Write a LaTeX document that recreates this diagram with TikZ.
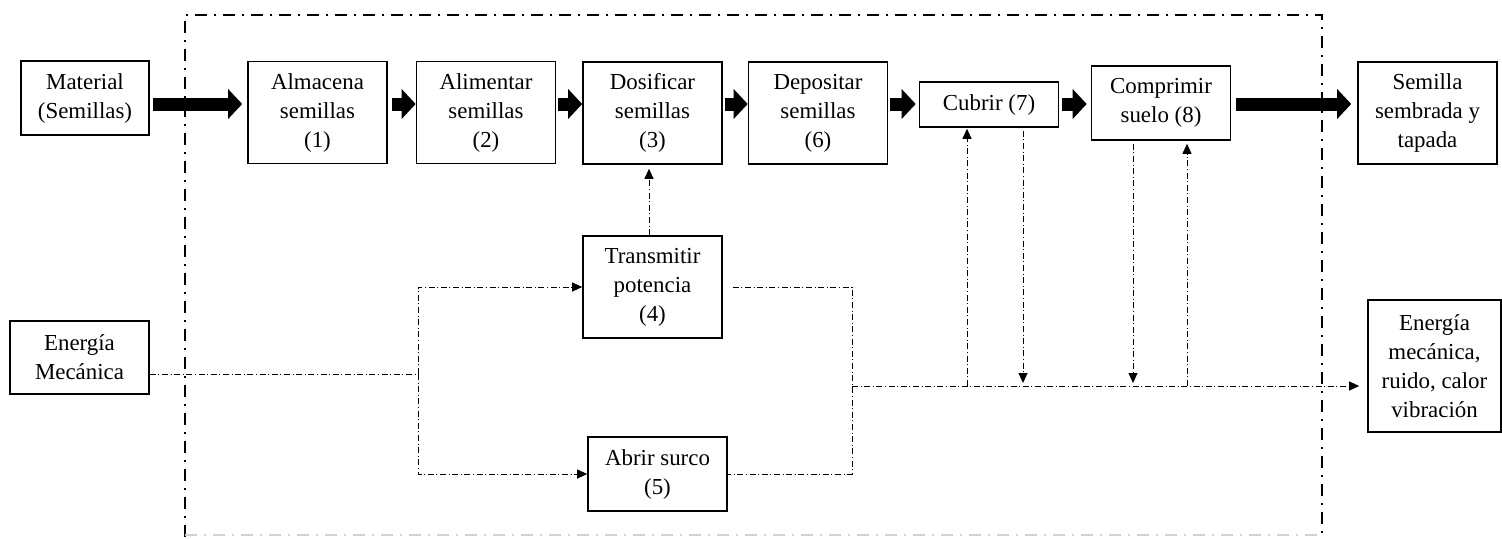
\documentclass[tikz,border=0pt]{standalone}
\usepackage{fontspec}
\setmainfont{Liberation Serif}
\usetikzlibrary{arrows.meta,calc}

\tikzset{
  block/.style={draw, line width=0.8pt, align=center, inner sep=1pt, minimum width=69.5pt, minimum height=51pt, font=\fontsize{11.45}{14.5}\selectfont},
  bigarrow/.style={line width=6.5pt, -{Triangle[length=7pt,width=14.5pt]}},
  energy/.style={line width=0.45pt, dash pattern=on 3pt off 1.3pt on 0.5pt off 1.3pt},
  energyarrow/.style={energy, -{Triangle[length=5pt,width=4.5pt]}},
  boundary/.style={line width=1pt, dash pattern=on 6pt off 3.5pt on 1pt off 3.5pt}
}

\begin{document}
\begin{tikzpicture}[x=0.5pt,y=-0.5pt]
\useasboundingbox (0,0) rectangle (1502,538);

% system boundary
\draw[boundary] (185,537) -- (185,15) -- (1322,15) -- (1322,537);
\draw[boundary, gray!35, line width=0.6pt] (185,535) -- (1322,535);

% seed flow
\node[block, minimum width=64pt, minimum height=37pt] (mat) at (85,98) {Material\\(Semillas)};
\node[block] (alm) at (317.5,112.5) {Almacena\\semillas\\(1)};
\node[block] (ali) at (486,112.5) {Alimentar\\semillas\\(2)};
\node[block] (dos) at (652.5,113) {Dosificar\\semillas\\(3)};
\node[block] (dep) at (818,113) {Depositar\\semillas\\(6)};
\node[block, minimum height=22.5pt] (cub) at (989,104.5) {Cubrir (7)};
\node[block, minimum height=37pt] (com) at (1161,103) {Comprimir\\suelo (8)};
\node[block] (sem) at (1427.5,113) {Semilla\\sembrada y\\tapada};

% energy flow
\node[block] (tra) at (652.5,287) {Transmitir\\potencia\\(4)};
\node[block, minimum height=37pt] (abr) at (657.5,474) {Abrir surco\\(5)};
\node[block, minimum height=36.5pt] (emec) at (79.5,357.5) {Energía\\Mecánica};
\node[block, minimum width=66.5pt, minimum height=66pt] (eout) at (1434.5,366) {Energía\\mecánica,\\ruido, calor\\vibración};

\coordinate (row) at (0,104);
\coordinate (split) at (418,374);
\coordinate (merge) at (852,386);
\coordinate (up7) at (967,386);
\coordinate (down7) at (1023,386);
\coordinate (down8) at (1133,386);
\coordinate (up8) at (1187,386);

\draw[bigarrow, shorten <=1.5pt, shorten >=2.5pt] (mat.east |- row) -- (alm.west |- row);
\draw[bigarrow, shorten <=2pt] (alm.east |- row) -- (ali.west |- row);
\draw[bigarrow, shorten <=1pt] (ali.east |- row) -- (dos.west |- row);
\draw[bigarrow, shorten <=1pt] (dos.east |- row) -- (dep.west |- row);
\draw[bigarrow, shorten <=1pt, shorten >=1.5pt] (dep.east |- row) -- (cub.west |- row);
\draw[bigarrow, shorten <=1.5pt, shorten >=2pt] (cub.east |- row) -- (com.west |- row);
\draw[bigarrow, shorten <=2.5pt, shorten >=3pt] (com.east |- row) -- (sem.west |- row);

\draw[energy] (emec.east |- split) -- (split);
\draw[energyarrow] (split) |- (tra.west);
\draw[energyarrow] (split) |- (abr.west);
\draw[energyarrow, shorten >=2pt] ([xshift=-1.75pt]tra.north) -- ([xshift=-1.75pt]dos.south);
\draw[energy] ([xshift=5pt]tra.east) -| (merge) |- (abr.east);
\draw[energyarrow, shorten >=4pt] (merge) -- (merge -| eout.west);

\draw[energyarrow, shorten >=0.5pt] (up7) -- (up7 |- cub.south);
\draw[energyarrow, shorten <=1.5pt, shorten >=1.5pt] (down7 |- cub.south) -- (down7);
\draw[energyarrow, shorten <=1.5pt, shorten >=1.5pt] (down8 |- com.south) -- (down8);
\draw[energyarrow, shorten >=1.5pt] (up8) -- (up8 |- com.south);
\end{tikzpicture}
\end{document}
